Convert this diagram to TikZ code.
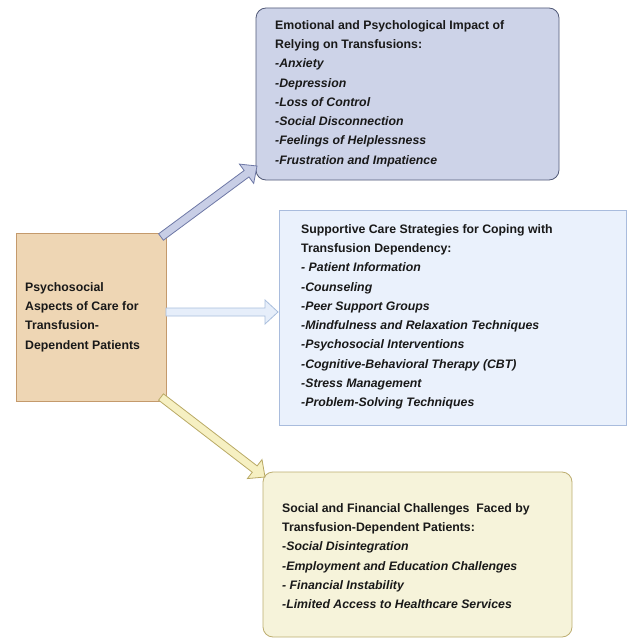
\documentclass[tikz,border=0pt]{standalone}
\usepackage{fontspec}
\setmainfont{Liberation Sans}
\usetikzlibrary{calc}
\definecolor{srcfill}{HTML}{EED6B4}
\definecolor{srcdraw}{HTML}{C49A6C}
\definecolor{emofill}{HTML}{CDD3E8}
\definecolor{emodraw}{HTML}{525A78}
\definecolor{supfill}{HTML}{EAF1FC}
\definecolor{supdraw}{HTML}{A9BCDD}
\definecolor{socfill}{HTML}{F6F3DA}
\definecolor{socdraw}{HTML}{BDAE70}
\definecolor{aonefill}{HTML}{C8CEE6}
\definecolor{aonedraw}{HTML}{6E78A6}
\definecolor{atwofill}{HTML}{E6EEFA}
\definecolor{atwodraw}{HTML}{A9BEDD}
\definecolor{athreefill}{HTML}{F6F0C2}
\definecolor{athreedraw}{HTML}{B9A964}
\tikzset{
  boxtext/.style={anchor=north west, inner sep=0pt, align=left, font=\fontsize{12.3}{19.3}\selectfont\bfseries, text=black!90},
  blockarr/.style={line width=0.8pt, line join=miter},
}
\newcommand{\blockarrow}[3]{%
  \coordinate (h) at ($(#2)!13pt!(#1)$);
  \filldraw[blockarr,#3] ($(#1)!4pt!90:(#2)$) -- ($(h)!4pt!-90:(#1)$) -- ($(h)!12pt!-90:(#1)$) -- (#2) -- ($(h)!12pt!90:(#1)$) -- ($(h)!4pt!90:(#1)$) -- ($(#1)!4pt!-90:(#2)$) -- cycle;
}
\begin{document}
\begin{tikzpicture}[x=1pt,y=-1pt]
\clip (0,0) rectangle (630,639);
\fill[white] (0,0) rectangle (630,639);
% boxes
\draw[fill=srcfill, draw=srcdraw, line width=0.8pt] (16,233) rectangle (166,401);
\node (src) at (91,317) {};
\draw[fill=emofill, draw=emodraw, line width=0.8pt, rounded corners=10pt] (256,8) rectangle (559,180);
\node (emo) at (407,94) {};
\draw[fill=supfill, draw=supdraw, line width=0.8pt] (279,210) rectangle (626,425);
\node (sup) at (450,317) {};
\draw[fill=socfill, draw=socdraw, line width=0.8pt, rounded corners=10pt] (263,472) rectangle (572,637);
\node (soc) at (417,555) {};
% texts
\node[boxtext] (srct) at (25,282) {Psychosocial\\Aspects of Care for\\Transfusion-\\Dependent Patients};
\node[boxtext] (emot) at (275,20) {Emotional and Psychological Impact of\\Relying on Transfusions:\\\itshape -Anxiety\\\itshape -Depression\\\itshape -Loss of Control\\\itshape -Social Disconnection\\\itshape -Feelings of Helplessness\\\itshape -Frustration and Impatience};
\node[boxtext] (supt) at (301,224) {Supportive Care Strategies for Coping with\\Transfusion Dependency:\\\itshape - Patient Information\\\itshape -Counseling\\\itshape -Peer Support Groups\\\itshape -Mindfulness and Relaxation Techniques\\\itshape -Psychosocial Interventions\\\itshape -Cognitive-Behavioral Therapy (CBT)\\\itshape -Stress Management\\\itshape -Problem-Solving Techniques};
\node[boxtext] (soct) at (282,503) {Social and Financial Challenges\ \ Faced by\\Transfusion-Dependent Patients:\\-\itshape Social Disintegration\\\itshape -Employment and Education Challenges\\\itshape - Financial Instability\\\itshape -Limited Access to Healthcare Services};
% arrows
\coordinate (a1s) at (161,237);
\coordinate (a1e) at (257,166);
\coordinate (a2s) at (166,312);
\coordinate (a2e) at (278,312);
\coordinate (a3s) at (161,397);
\coordinate (a3e) at (265,477);
\blockarrow{a1s}{a1e}{fill=aonefill, draw=aonedraw}
\blockarrow{a2s}{a2e}{fill=atwofill, draw=atwodraw}
\blockarrow{a3s}{a3e}{fill=athreefill, draw=athreedraw}
\end{tikzpicture}
\end{document}
